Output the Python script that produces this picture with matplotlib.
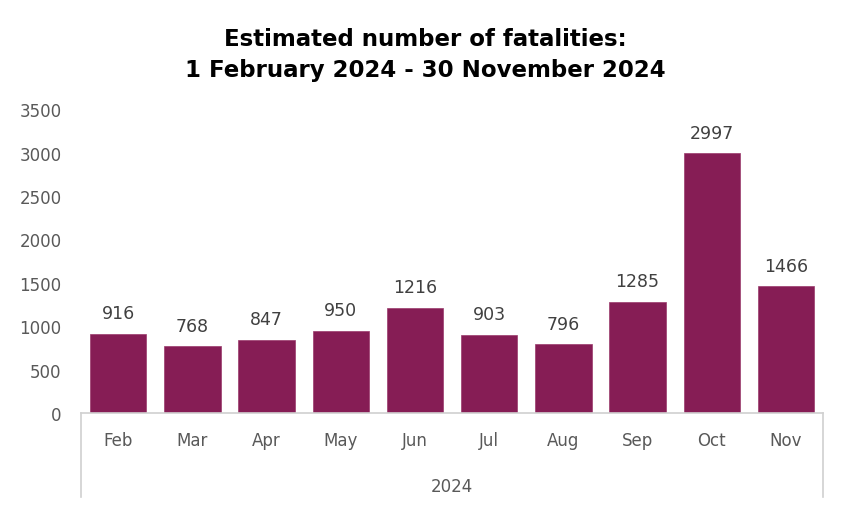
import matplotlib.pyplot as plt
import numpy as np

months = ['Feb', 'Mar', 'Apr', 'May', 'Jun', 'Jul', 'Aug', 'Sep', 'Oct', 'Nov']
fatalities = [916, 768, 847, 950, 1216, 903, 796, 1285, 2997, 1466]
year_label = '2024'

bar_color = '#861D55'
text_color = '#595959'

fig = plt.figure(figsize=(8.5, 5.1), dpi=100)
ax = fig.add_axes([0.0953, 0.188, 0.873, 0.596])

x = np.arange(len(months))
bars = ax.bar(x, fatalities, width=0.76, color=bar_color, edgecolor='#9a3a6c', linewidth=0.5)
for xi, v in zip(x, fatalities):
    ax.text(xi, v + 130, str(v), ha='center', va='bottom', fontsize=12.5, color='#404040')

ax.set_xlim(-0.5, len(months) - 0.5)
ax.set_ylim(0, 3500)
ax.set_yticks(range(0, 3501, 500))
ax.tick_params(axis='y', length=0, labelsize=12, labelcolor=text_color, pad=14)
ax.set_xticks([])
for s in ['top', 'right', 'left']:
    ax.spines[s].set_visible(False)
ax.spines['bottom'].set_color('#d0d0d0')
ax.spines['bottom'].set_linewidth(1.2)

# multi-level category axis
tr = ax.get_xaxis_transform()
for xi, m in zip(x, months):
    ax.text(xi, -0.09, m, transform=tr, ha='center', va='center', fontsize=12, color=text_color)
ax.text((len(months) - 1) / 2, -0.24, year_label, transform=tr, ha='center', va='center',
        fontsize=12, color=text_color)
for xe in [-0.5, len(months) - 0.5]:
    ax.plot([xe, xe], [0, -0.275], transform=tr, color='#d0d0d0', lw=1.2, clip_on=False)

fig.suptitle('Estimated number of fatalities:\n1 February 2024 - 30 November 2024',
             y=0.945, fontsize=16.5, fontweight='bold', color='black', linespacing=1.42)

fig.savefig('out.png', dpi=100)
